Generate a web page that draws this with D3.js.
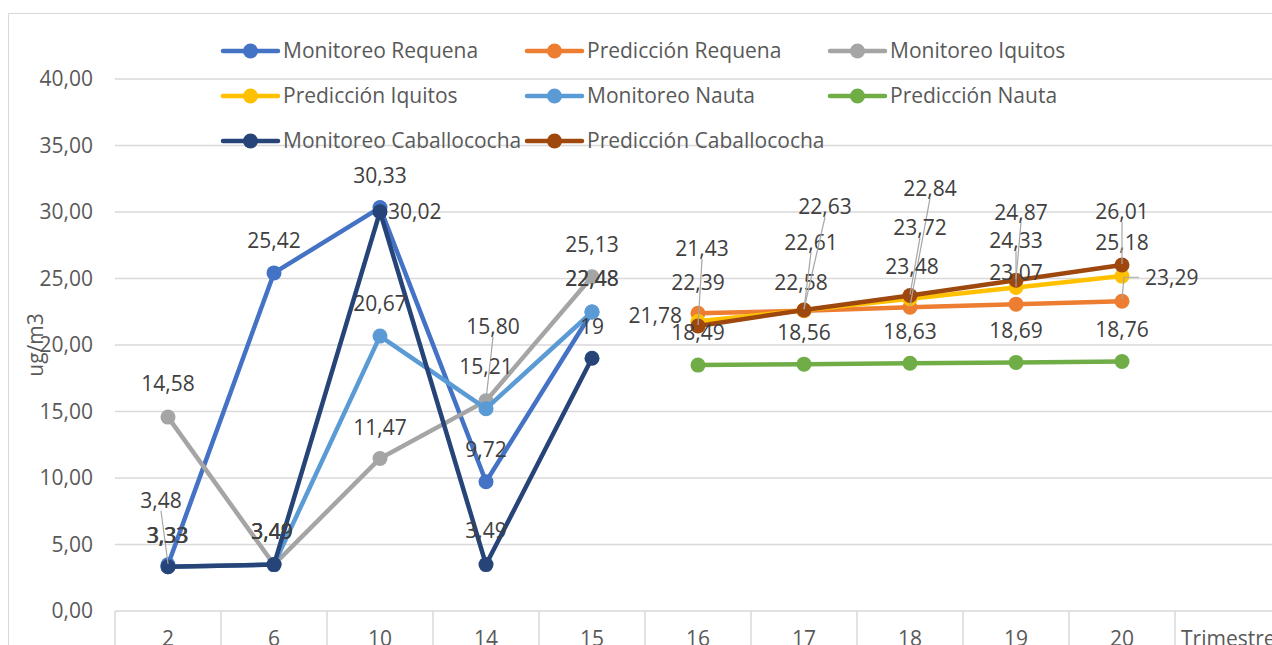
<!DOCTYPE html>
<html><head><meta charset="utf-8">
<script src="https://cdn.jsdelivr.net/npm/d3@7"></script>
<style>
html,body{margin:0;padding:0;background:#fff;overflow:hidden}
svg{display:block}
text{font-family:"Open Sans",sans-serif}
</style></head>
<body><svg id="chart" width="1272" height="645"></svg>
<script>
// ---------- DATA ----------
const categories = ["2","6","10","14","15","16","17","18","19","20"];
const axisTitleX = "Trimestre";
const axisTitleY = "ug/m3";
const yTicks = [0,5,10,15,20,25,30,35,40];

const seriesNames = ["Monitoreo Requena","Predicción Requena","Monitoreo Iquitos","Predicción Iquitos",
                     "Monitoreo Nauta","Predicción Nauta","Monitoreo Caballococha","Predicción Caballococha"];
const monitoreoRequena      = [3.48, 25.42, 30.33, 9.72, 22.48, null, null, null, null, null];
const prediccionRequena     = [null, null, null, null, null, 22.39, 22.58, 22.84, 23.07, 23.29];
const monitoreoIquitos      = [14.58, 3.49, 11.47, 15.80, 25.13, null, null, null, null, null];
const prediccionIquitos     = [null, null, null, null, null, 21.78, 22.61, 23.48, 24.33, 25.18];
const monitoreoNauta        = [3.33, 3.49, 20.67, 15.21, 22.48, null, null, null, null, null];
const prediccionNauta       = [null, null, null, null, null, 18.49, 18.56, 18.63, 18.69, 18.76];
const monitoreoCaballococha = [3.33, 3.49, 30.02, 3.49, 19, null, null, null, null, null];
const prediccionCaballococha= [null, null, null, null, null, 21.43, 22.63, 23.72, 24.87, 26.01];

// ---------- STYLE / LAYOUT ----------
const seriesValues = [monitoreoRequena, prediccionRequena, monitoreoIquitos, prediccionIquitos,
                      monitoreoNauta, prediccionNauta, monitoreoCaballococha, prediccionCaballococha];
const seriesColors = ["#4472C4","#ED7D31","#A5A5A5","#FFC000","#5B9BD5","#70AD47","#264478","#9E480E"];

// label offsets [dx, dy, anchor, leader] relative to point
const D = [0,-32,"middle",0];
const labelOffsets = [
  [[-7,-64,"middle",1],[0,-32,"middle",0],[0,-32,"middle",0],[0,-32,"middle",0],[0,-33,"middle",0]],
  [null,null,null,null,null,[0,-31,"middle",0],[-3,-28,"middle",0],[20,-119,"middle",1],[0,-32,"middle",0],[23,-24,"start",2]],
  [[0,-33,"middle",0],[-2,-33,"middle",0],[0,-31,"middle",0],[7,-74,"middle",1],[0,-32,"middle",0]],
  [null,null,null,null,null,[-16,-6,"end",0],[7,-68,"middle",1],[2,-32,"middle",0],[0,-47,"middle",1],[0,-33,"middle",0]],
  [[0,-31,"middle",0],[-2,-33,"middle",0],[0,-32,"middle",0],[0,-42,"middle",0],[0,-33,"middle",0]],
  [null,null,null,null,null,[0,-32,"middle",0],[0,-32,"middle",0],[0,-32,"middle",0],[0,-32,"middle",0],[0,-32,"middle",0]],
  [[-1,-31,"middle",0],[-2,-33,"middle",0],[8,0,"start",0],[0,-34,"middle",0],[0,-32,"middle",0]],
  [null,null,null,null,null,[4,-77,"middle",1],[21,-103,"middle",1],[10,-68,"middle",1],[5,-68,"middle",1],[0,-53,"middle",1]]
];

const svg = d3.select("#chart");
const plotLeft = 115, bandW = 106, plotTop = 79, plotBottom = 611;
const fs = 21;

const x = d3.scaleBand().domain(categories.concat([axisTitleX])).range([plotLeft, plotLeft + bandW*(categories.length+1)]).padding(0);
const xc = c => x(c) + x.bandwidth()/2;
const y = d3.scaleLinear().domain([0,40]).range([plotBottom, plotTop]);
const fmt = v => Number.isInteger(v) ? String(v) : v.toFixed(2).replace(".", ",");

// chart border
svg.append("rect").attr("x",8.5).attr("y",13.5).attr("width",1300).attr("height",700)
  .attr("fill","none").attr("stroke","#D9D9D9").attr("stroke-width",1);

// gridlines
svg.append("g").selectAll("line").data(yTicks.filter(t=>t>0)).join("line")
  .attr("x1",plotLeft).attr("x2",1290).attr("y1",d=>y(d)).attr("y2",d=>y(d))
  .attr("stroke","#D9D9D9").attr("stroke-width",1.5);

// y tick labels
svg.append("g").selectAll("text").data(yTicks).join("text")
  .attr("x",93).attr("y",d=>y(d)).attr("dy","0.35em").attr("text-anchor","end")
  .attr("font-size",fs).attr("fill","#595959").text(d=>d.toFixed(2).replace(".",","));

// y title
svg.append("text").attr("transform",`translate(43,${(plotTop+plotBottom)/2}) rotate(-90)`)
  .attr("text-anchor","middle").attr("font-size",fs).attr("fill","#595959").text(axisTitleY);

// x axis: line and separators (table-like)
const xAxis = d3.axisBottom(x).tickSize(0).tickFormat(d=>d);
const gx = svg.append("g").attr("transform",`translate(0,${plotBottom})`).call(xAxis);
gx.select(".domain").remove();
gx.selectAll("text").attr("font-size",fs).attr("fill","#595959").attr("font-family","Open Sans, sans-serif")
  .attr("y",20).attr("dy","0.71em");
gx.selectAll(".tick").filter(d=>d===axisTitleX).select("text")
  .attr("text-anchor","start").attr("x",-x.bandwidth()/2+6);
svg.append("line").attr("x1",plotLeft).attr("x2",1290).attr("y1",plotBottom).attr("y2",plotBottom)
  .attr("stroke","#D9D9D9").attr("stroke-width",1.5);
svg.append("g").selectAll("line").data(x.domain()).join("line")
  .attr("x1",d=>x(d)).attr("x2",d=>x(d)).attr("y1",plotBottom).attr("y2",660)
  .attr("stroke","#D9D9D9").attr("stroke-width",1.5);

// series
const line = d3.line().defined(d=>d.v!=null).x(d=>xc(d.c)).y(d=>y(d.v));
seriesValues.forEach((vals,i)=>{
  const pts = vals.map((v,j)=>({c:categories[j],v}));
  const g = svg.append("g");
  g.append("path").attr("d",line(pts)).attr("fill","none").attr("stroke",seriesColors[i])
    .attr("stroke-width",4.5).attr("stroke-linejoin","round").attr("stroke-linecap","round");
  g.selectAll("circle").data(pts.filter(d=>d.v!=null)).join("circle")
    .attr("cx",d=>xc(d.c)).attr("cy",d=>y(d.v)).attr("r",7.5).attr("fill",seriesColors[i]);
});

// labels
const lg = svg.append("g");
seriesValues.forEach((vals,i)=>{
  vals.forEach((v,j)=>{
    if(v==null) return;
    const o = labelOffsets[i][j] || D;
    const px = xc(categories[j]), py = y(v);
    const lx = px+o[0], ly = py+o[1];
    if(o[3]===1){
      lg.append("line").attr("x1",lx).attr("y1",ly+10).attr("x2",px).attr("y2",py-1)
        .attr("stroke","#A6A6A6").attr("stroke-width",1.2);
    } else if(o[3]===2){
      lg.append("polyline").attr("points",`${px},${py-2} ${px+2},${ly} ${lx-6},${ly}`)
        .attr("fill","none").attr("stroke","#A6A6A6").attr("stroke-width",1.2);
    }
    lg.append("text").attr("x",lx).attr("y",ly).attr("dy","0.35em").attr("text-anchor",o[2])
      .attr("font-size",fs).attr("fill","#404040").text(fmt(v));
  });
});

// legend
const legX = [223, 527, 830], legY = [51, 96, 141];
const leg = svg.append("g");
seriesNames.forEach((n,i)=>{
  const lx = legX[i%3], ly = legY[Math.floor(i/3)];
  leg.append("line").attr("x1",lx).attr("x2",lx+55).attr("y1",ly).attr("y2",ly)
    .attr("stroke",seriesColors[i]).attr("stroke-width",4.5).attr("stroke-linecap","round");
  leg.append("circle").attr("cx",lx+27.5).attr("cy",ly).attr("r",7.5).attr("fill",seriesColors[i]);
  leg.append("text").attr("x",lx+60).attr("y",ly).attr("dy","0.35em").attr("font-size",fs)
    .attr("fill","#595959").text(n);
});
</script></body></html>
